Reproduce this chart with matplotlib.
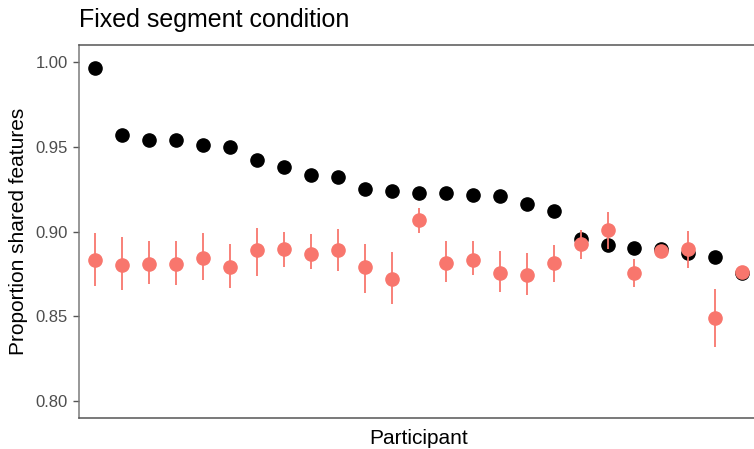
import numpy as np
import matplotlib.pyplot as plt

plt.rcParams['font.family'] = ['Liberation Sans', 'DejaVu Sans']

# Per-participant proportions (sorted by the fixed-segment score)
participant = np.arange(1, 26)
fixed_prop = [0.9965, 0.9569, 0.9541, 0.9539, 0.9508, 0.9500, 0.9420, 0.9378,
              0.9333, 0.9324, 0.9251, 0.9241, 0.9229, 0.9225, 0.9216, 0.9210,
              0.9161, 0.9118, 0.8957, 0.8922, 0.8904, 0.8894, 0.8875, 0.8847,
              0.8753]
model_mean = [0.8829, 0.8804, 0.8810, 0.8810, 0.8843, 0.8788, 0.8892, 0.8894,
              0.8869, 0.8892, 0.8788, 0.8720, 0.9065, 0.8816, 0.8833, 0.8757,
              0.8745, 0.8816, 0.8928, 0.9006, 0.8755, 0.8884, 0.8898, 0.8488,
              0.8761]
model_lo = [0.8676, 0.8657, 0.8690, 0.8686, 0.8714, 0.8669, 0.8737, 0.8792,
            0.8776, 0.8765, 0.8637, 0.8571, 0.8990, 0.8700, 0.8743, 0.8643,
            0.8625, 0.8700, 0.8837, 0.8894, 0.8671, 0.8880, 0.8782, 0.8318,
            0.8755]
model_hi = [0.8992, 0.8969, 0.8943, 0.8943, 0.8990, 0.8929, 0.9022, 0.8996,
            0.8988, 0.9014, 0.8928, 0.8882, 0.9137, 0.8945, 0.8945, 0.8884,
            0.8875, 0.8918, 0.9008, 0.9114, 0.8835, 0.8890, 0.9002, 0.8659,
            0.8768]

RED = '#F8766D'
GREY_TEXT = '#4d4d4d'

fig = plt.figure(figsize=(7.54, 4.49), dpi=100)
W, H = 754, 449
# panel runs a little past the right edge of the canvas
ax = fig.add_axes([79 / W, (H - 418) / H, (758.5 - 79) / W, (418 - 45) / H])

ax.plot(participant, fixed_prop, 'o', color='black', markersize=9.5, zorder=2)
ax.vlines(participant, model_lo, model_hi, color=RED, linewidth=1.3, zorder=3)
ax.plot(participant, model_mean, 'o', color=RED, markersize=9.5, zorder=4)

ax.set_xlim(0.4, 25.6)
ax.set_ylim(0.79, 1.01)
ax.set_yticks([0.80, 0.85, 0.90, 0.95, 1.00])
ax.set_yticklabels(['0.80', '0.85', '0.90', '0.95', '1.00'])
ax.set_xticks([])

for side in ['top', 'bottom', 'right']:
    ax.spines[side].set_color('#555555')
    ax.spines[side].set_linewidth(1.1)
ax.spines['left'].set_color('#7a7a7a')
ax.spines['left'].set_linewidth(1.1)
ax.tick_params(axis='y', colors='#555555', length=4.5, width=1, labelsize=12,
               labelcolor=GREY_TEXT, pad=3.5)

# titles placed in figure pixels
panel_cx = (79 + 758.5) / 2 / W
panel_cy = 1 - (45 + 418) / 2 / H
fig.text(panel_cx, 1 - 444 / H, 'Participant', fontsize=15,
         ha='center', va='baseline')
fig.text(18.8 / W, panel_cy, 'Proportion shared features', fontsize=15,
         rotation=90, ha='center', va='center')
fig.text(79 / W, 1 - 27.3 / H, 'Fixed segment condition', fontsize=18,
         ha='left', va='baseline')

fig.savefig('out.png', dpi=100)
